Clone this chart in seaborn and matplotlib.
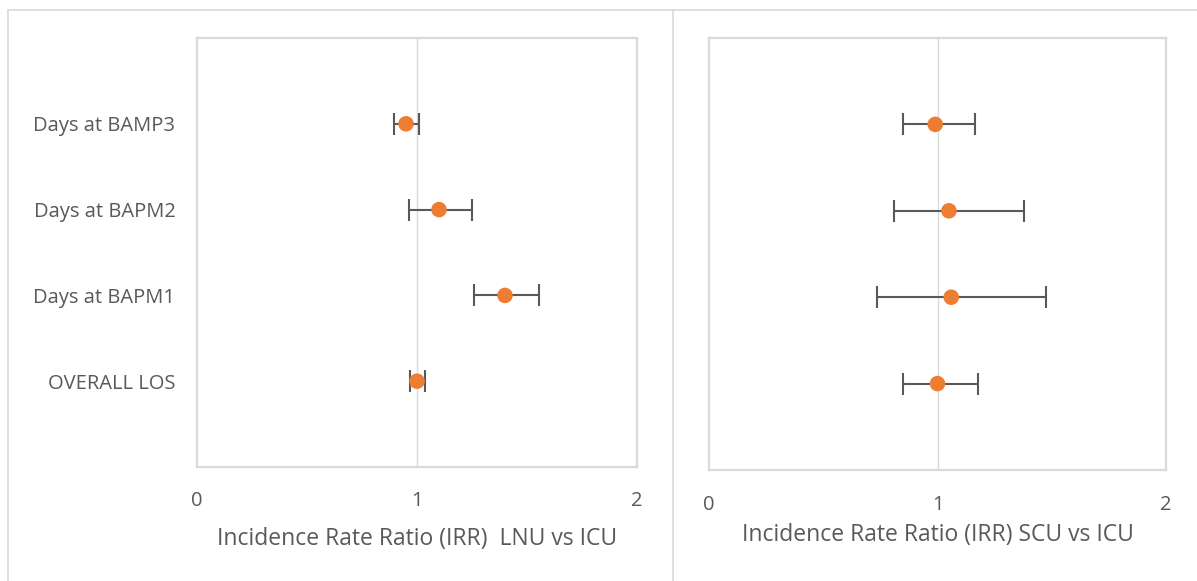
import matplotlib
matplotlib.use("Agg")
import matplotlib.pyplot as plt
import seaborn as sns
import pandas as pd
from matplotlib.lines import Line2D

sns.set_theme(style="white")
plt.rcParams['font.family'] = ['Open Sans', 'DejaVu Sans']

categories = ["OVERALL LOS", "Days at BAPM1", "Days at BAPM2", "Days at BAMP3"]
positions = [1, 2, 3, 4]

lnu_irr = [1.00, 1.40, 1.10, 0.95]
lnu_low = [0.967, 1.258, 0.965, 0.897]
lnu_high = [1.036, 1.553, 1.25, 1.01]

scu_irr = [1.00, 1.06, 1.05, 0.99]
scu_low = [0.848, 0.735, 0.809, 0.848]
scu_high = [1.178, 1.474, 1.378, 1.162]

xticks = [0, 1, 2]
xlabels = ["Incidence Rate Ratio (IRR)  LNU vs ICU", "Incidence Rate Ratio (IRR) SCU vs ICU"]

W, H = 1197, 581
fig = plt.figure(figsize=(W / 100, H / 100), dpi=100)

GRID = "#D9D9D9"
TXT = "#595959"
ORANGE = "#ED7D31"

# chart area borders
def fig_line(x0, y0, x1, y1):
    fig.add_artist(Line2D([x0 / W, x1 / W], [1 - y0 / H, 1 - y1 / H],
                          transform=fig.transFigure, color=GRID, lw=1.2))

fig_line(8, 10, 1197, 10)
fig_line(8, 10, 8, 581)
fig_line(673, 10, 673, 581)

def make_ax(x0, x1, y0, y1):
    return fig.add_axes([x0 / W, 1 - y1 / H, (x1 - x0) / W, (y1 - y0) / H])

axes = [make_ax(197, 637, 38, 467), make_ax(709, 1166, 38, 470)]
series = [(lnu_irr, lnu_low, lnu_high), (scu_irr, scu_low, scu_high)]

for i, (ax, (irr, lo, hi)) in enumerate(zip(axes, series)):
    df = pd.DataFrame({"irr": irr, "pos": positions, "lo": lo, "hi": hi})
    ax.set_xlim(0, 2)
    ax.set_ylim(0, 5)
    for xv in xticks[1:-1]:
        ax.axvline(xv, color=GRID, lw=1.0, zorder=0)
    ax.errorbar(df["irr"], df["pos"],
                xerr=[df["irr"] - df["lo"], df["hi"] - df["irr"]],
                fmt="none", ecolor=TXT, elinewidth=1.5, capsize=8, capthick=1.5, zorder=2)
    sns.scatterplot(data=df, x="irr", y="pos", ax=ax, color=ORANGE, s=125,
                    edgecolor="none", zorder=3, legend=False)
    for s in ax.spines.values():
        s.set_color(GRID)
        s.set_linewidth(1.6)
    ax.set_xticks(xticks)
    ax.set_xticklabels([str(t) for t in xticks])
    ax.tick_params(axis="x", length=0, pad=17 if i == 0 else 18, labelsize=14.5, labelcolor=TXT)
    if i == 0:
        ax.set_yticks(positions)
        ax.set_yticklabels(categories)
        ax.tick_params(axis="y", length=0, pad=15.5, labelsize=14.5, labelcolor=TXT)
    else:
        ax.set_yticks([])
    ax.set_ylabel("")
    ax.set_xlabel(xlabels[i], fontsize=16.5, color=TXT, labelpad=12 if i == 0 else 6)

fig.savefig("out.png", dpi=100)
